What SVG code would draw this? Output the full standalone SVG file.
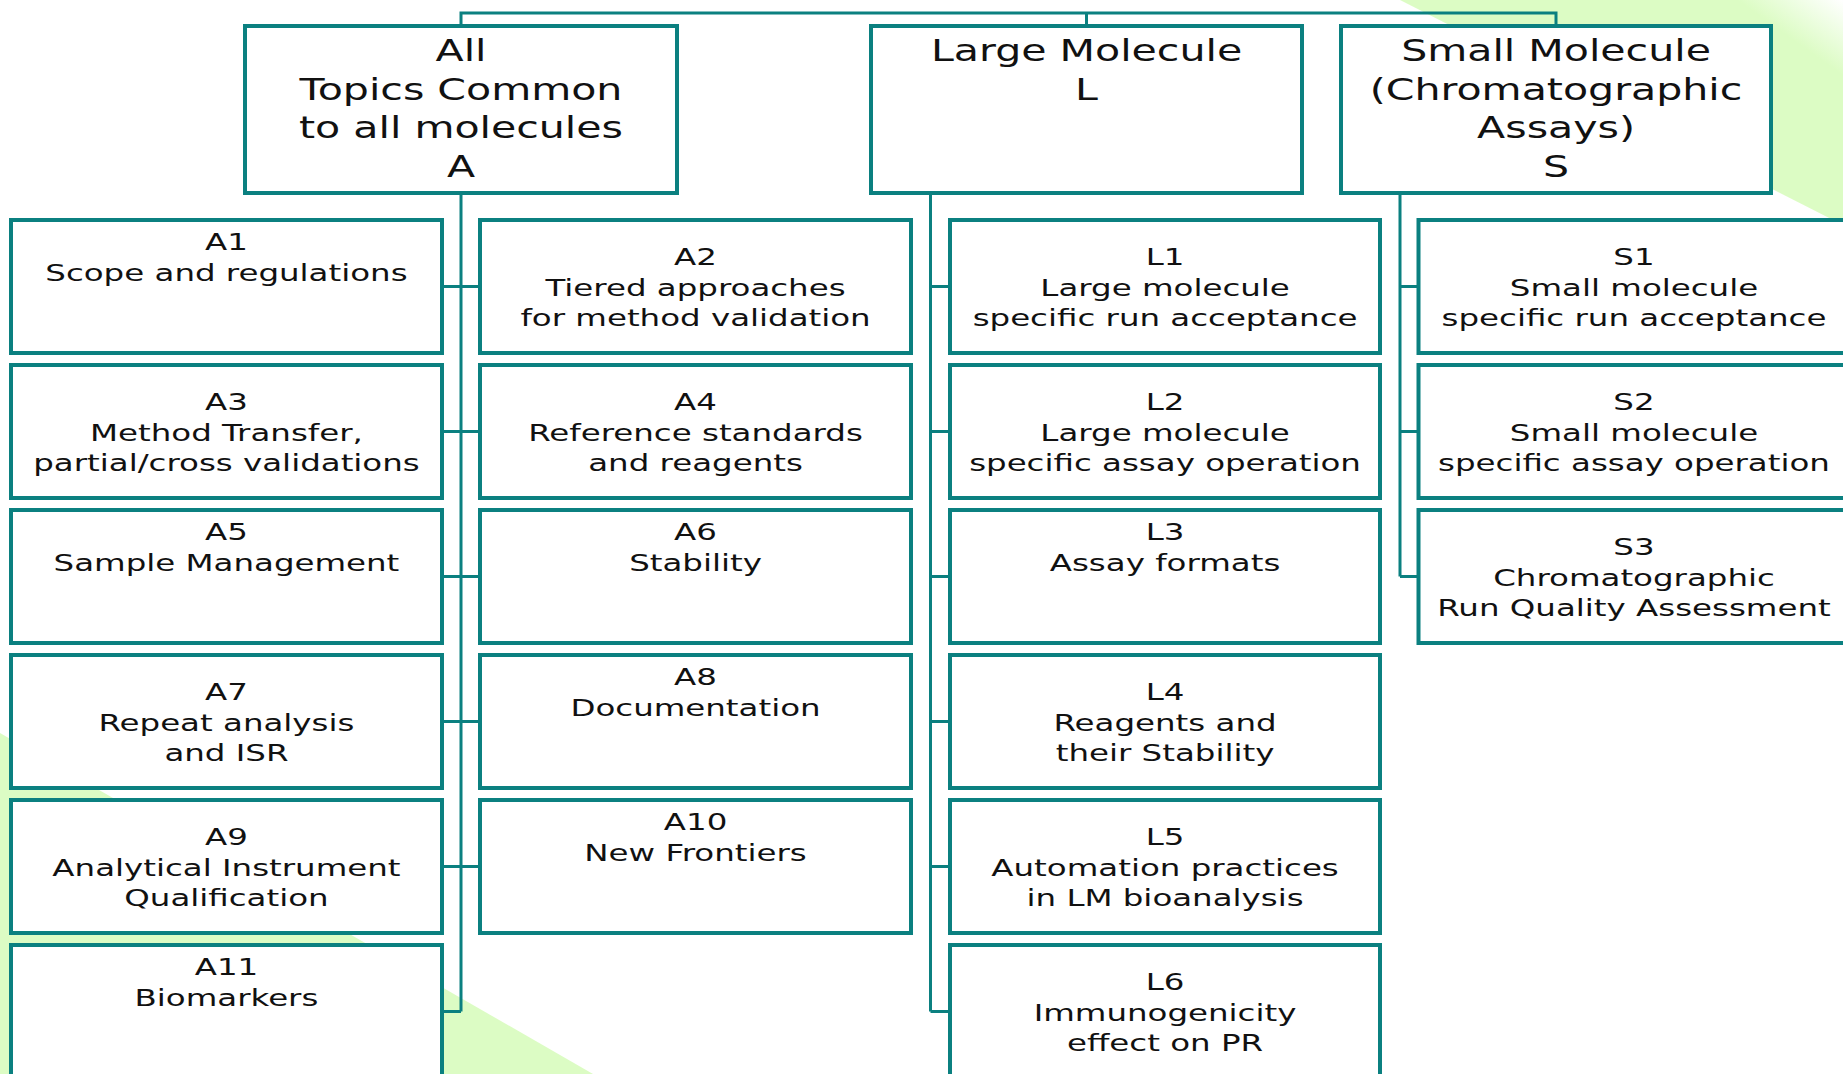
<svg xmlns="http://www.w3.org/2000/svg" width="1843" height="1074" viewBox="0 0 1843 1074">
<defs>
<style>
.box{fill:#fff;stroke:#0b8080;stroke-width:4}
.con{fill:none;stroke:#0b8080;stroke-width:3}
.h{font-family:"DejaVu Sans",Verdana,sans-serif;font-size:30px;fill:#111;text-anchor:middle}
.c{font-family:"DejaVu Sans",Verdana,sans-serif;font-size:23.7px;fill:#111;text-anchor:middle}
</style>
<linearGradient id="gTR" x1="1843" y1="0" x2="1700" y2="200" gradientUnits="userSpaceOnUse">
<stop offset="0" stop-color="#ffffff"/>
<stop offset="0.25" stop-color="#dcfcc4"/>
<stop offset="1" stop-color="#dcfcc4"/>
</linearGradient>
<linearGradient id="gBL" x1="0" y1="1074" x2="200" y2="730" gradientUnits="userSpaceOnUse">
<stop offset="0" stop-color="#dcfcc4"/>
<stop offset="0.85" stop-color="#dcfcc4"/>
<stop offset="1" stop-color="#eefde4"/>
</linearGradient>
</defs>
<rect width="1843" height="1074" fill="#fff"/>
<g id="background">
<polygon points="1400,0 1843,0 1843,225" fill="url(#gTR)"/>
<polygon points="0,733 593,1074 0,1074" fill="url(#gBL)"/>
</g>
<g id="connectors">
<path class="con" d="M461,26 V13 H1556 V26 M1086.5,13 V26"/>
<path class="con" d="M461,193 V1011.5 M442,286.5 H480 M442,431.5 H480 M442,576.5 H480 M442,721.5 H480 M442,866.5 H480 M442,1011.5 H461"/>
<path class="con" d="M930.5,193 V1011.5 M930.5,286.5 H950 M930.5,431.5 H950 M930.5,576.5 H950 M930.5,721.5 H950 M930.5,866.5 H950 M930.5,1011.5 H950"/>
<path class="con" d="M1400,193 V576.5 M1400,286.5 H1418.5 M1400,431.5 H1418.5 M1400,576.5 H1418.5"/>
</g>
<g id="A"><rect class="box" x="245" y="26" width="432" height="167"/>
<text class="h" transform="scale(1.37 1)"><tspan x="336.5" y="61">All</tspan><tspan x="336.5" y="100">Topics Common</tspan><tspan x="336.5" y="138.5">to all molecules</tspan><tspan x="336.5" y="177">A</tspan></text></g>
<g id="L"><rect class="box" x="871" y="26" width="431" height="167"/>
<text class="h" transform="scale(1.37 1)"><tspan x="793.1" y="61">Large Molecule</tspan><tspan x="793.1" y="100">L</tspan></text></g>
<g id="S"><rect class="box" x="1341" y="26" width="430" height="167"/>
<text class="h" transform="scale(1.37 1)"><tspan x="1135.8" y="61">Small Molecule</tspan><tspan x="1135.8" y="100">(Chromatographic</tspan><tspan x="1135.8" y="138.5">Assays)</tspan><tspan x="1135.8" y="177">S</tspan></text></g>

<g id="A1"><rect class="box" x="11" y="220" width="431" height="133"/>
<text class="c" transform="scale(1.37 1)"><tspan x="165.3" y="250">A1</tspan><tspan x="165.3" y="281">Scope and regulations</tspan></text></g>
<g id="A3"><rect class="box" x="11" y="365" width="431" height="133"/>
<text class="c" transform="scale(1.37 1)"><tspan x="165.3" y="410.5">A3</tspan><tspan x="165.3" y="441">Method Transfer,</tspan><tspan x="165.3" y="471.5">partial/cross validations</tspan></text></g>
<g id="A5"><rect class="box" x="11" y="510" width="431" height="133"/>
<text class="c" transform="scale(1.37 1)"><tspan x="165.3" y="540">A5</tspan><tspan x="165.3" y="571">Sample Management</tspan></text></g>
<g id="A7"><rect class="box" x="11" y="655" width="431" height="133"/>
<text class="c" transform="scale(1.37 1)"><tspan x="165.3" y="700.5">A7</tspan><tspan x="165.3" y="731">Repeat analysis</tspan><tspan x="165.3" y="761.5">and ISR</tspan></text></g>
<g id="A9"><rect class="box" x="11" y="800" width="431" height="133"/>
<text class="c" transform="scale(1.37 1)"><tspan x="165.3" y="845.5">A9</tspan><tspan x="165.3" y="876">Analytical Instrument</tspan><tspan x="165.3" y="906.5">Qualification</tspan></text></g>
<g id="A11"><rect class="box" x="11" y="945" width="431" height="133"/>
<text class="c" transform="scale(1.37 1)"><tspan x="165.3" y="975">A11</tspan><tspan x="165.3" y="1006">Biomarkers</tspan></text></g>

<g id="A2"><rect class="box" x="480" y="220" width="431" height="133"/>
<text class="c" transform="scale(1.37 1)"><tspan x="507.7" y="265.5">A2</tspan><tspan x="507.7" y="296">Tiered approaches</tspan><tspan x="507.7" y="326.5">for method validation</tspan></text></g>
<g id="A4"><rect class="box" x="480" y="365" width="431" height="133"/>
<text class="c" transform="scale(1.37 1)"><tspan x="507.7" y="410.5">A4</tspan><tspan x="507.7" y="441">Reference standards</tspan><tspan x="507.7" y="471.5">and reagents</tspan></text></g>
<g id="A6"><rect class="box" x="480" y="510" width="431" height="133"/>
<text class="c" transform="scale(1.37 1)"><tspan x="507.7" y="540">A6</tspan><tspan x="507.7" y="571">Stability</tspan></text></g>
<g id="A8"><rect class="box" x="480" y="655" width="431" height="133"/>
<text class="c" transform="scale(1.37 1)"><tspan x="507.7" y="685">A8</tspan><tspan x="507.7" y="716">Documentation</tspan></text></g>
<g id="A10"><rect class="box" x="480" y="800" width="431" height="133"/>
<text class="c" transform="scale(1.37 1)"><tspan x="507.7" y="830">A10</tspan><tspan x="507.7" y="861">New Frontiers</tspan></text></g>

<g id="L1"><rect class="box" x="950" y="220" width="430" height="133"/>
<text class="c" transform="scale(1.37 1)"><tspan x="850.4" y="265.5">L1</tspan><tspan x="850.4" y="296">Large molecule</tspan><tspan x="850.4" y="326.5">specific run acceptance</tspan></text></g>
<g id="L2"><rect class="box" x="950" y="365" width="430" height="133"/>
<text class="c" transform="scale(1.37 1)"><tspan x="850.4" y="410.5">L2</tspan><tspan x="850.4" y="441">Large molecule</tspan><tspan x="850.4" y="471.5">specific assay operation</tspan></text></g>
<g id="L3"><rect class="box" x="950" y="510" width="430" height="133"/>
<text class="c" transform="scale(1.37 1)"><tspan x="850.4" y="540">L3</tspan><tspan x="850.4" y="571">Assay formats</tspan></text></g>
<g id="L4"><rect class="box" x="950" y="655" width="430" height="133"/>
<text class="c" transform="scale(1.37 1)"><tspan x="850.4" y="700.5">L4</tspan><tspan x="850.4" y="731">Reagents and</tspan><tspan x="850.4" y="761.5">their Stability</tspan></text></g>
<g id="L5"><rect class="box" x="950" y="800" width="430" height="133"/>
<text class="c" transform="scale(1.37 1)"><tspan x="850.4" y="845.5">L5</tspan><tspan x="850.4" y="876">Automation practices</tspan><tspan x="850.4" y="906.5">in LM bioanalysis</tspan></text></g>
<g id="L6"><rect class="box" x="950" y="945" width="430" height="133"/>
<text class="c" transform="scale(1.37 1)"><tspan x="850.4" y="990.5">L6</tspan><tspan x="850.4" y="1021">Immunogenicity</tspan><tspan x="850.4" y="1051.5">effect on PR</tspan></text></g>

<g id="S1"><rect class="box" x="1418.5" y="220" width="431" height="133"/>
<text class="c" transform="scale(1.37 1)"><tspan x="1192.7" y="265.5">S1</tspan><tspan x="1192.7" y="296">Small molecule</tspan><tspan x="1192.7" y="326.5">specific run acceptance</tspan></text></g>
<g id="S2"><rect class="box" x="1418.5" y="365" width="431" height="133"/>
<text class="c" transform="scale(1.37 1)"><tspan x="1192.7" y="410.5">S2</tspan><tspan x="1192.7" y="441">Small molecule</tspan><tspan x="1192.7" y="471.5">specific assay operation</tspan></text></g>
<g id="S3"><rect class="box" x="1418.5" y="510" width="431" height="133"/>
<text class="c" transform="scale(1.37 1)"><tspan x="1192.7" y="555.5">S3</tspan><tspan x="1192.7" y="586">Chromatographic</tspan><tspan x="1192.7" y="616.5">Run Quality Assessment</tspan></text></g>
</svg>
